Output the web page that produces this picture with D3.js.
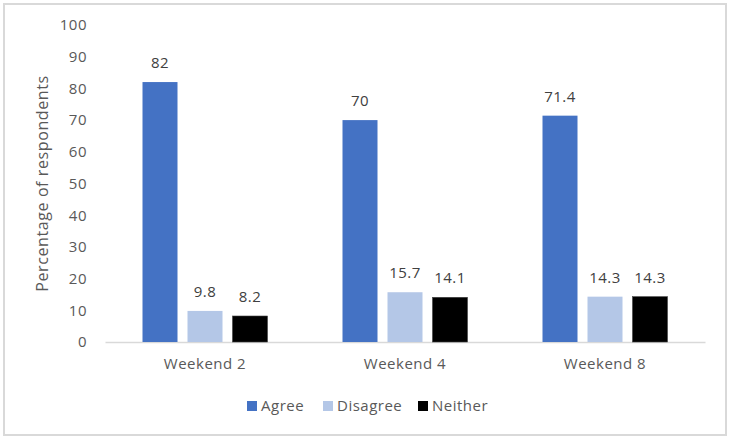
<!DOCTYPE html>
<html>
<head>
<meta charset="utf-8">
<script src="https://cdn.jsdelivr.net/npm/d3@7"></script>
<style>
  body { margin: 0; background: #fff; }
  svg text { font-family: "Open Sans", "Liberation Sans", sans-serif; fill: #595959; letter-spacing: 0.5px; }
</style>
</head>
<body>
<svg id="chart" width="731" height="440"></svg>
<script>
// DATA
var categories = ["Weekend 2", "Weekend 4", "Weekend 8"];
var seriesNames = ["Agree", "Disagree", "Neither"];
var agree = [82, 70, 71.4];
var disagree = [9.8, 15.7, 14.3];
var neither = [8.2, 14.1, 14.3];
var yTicks = [0, 10, 20, 30, 40, 50, 60, 70, 80, 90, 100];
var colors = ["#4472C4", "#B4C7E7", "#000000"];

(function () {
  var svg = d3.select("#chart");
  var margin = { top: 25, right: 26, bottom: 98, left: 105 };
  var width = 731 - margin.left - margin.right,
    height = 440 - margin.top - margin.bottom;
  var fs = "15px";

  // outer frame
  svg.append("rect")
    .attr("x", 4).attr("y", 4)
    .attr("width", 722).attr("height", 431)
    .attr("fill", "none")
    .attr("stroke", "#d9d9d9")
    .attr("stroke-width", 2);

  var rows = categories.map(function (c, i) {
    return { cat: c, values: [agree[i], disagree[i], neither[i]] };
  });

  var x0 = d3.scaleBand().domain(categories).range([0, width]).paddingInner(0).paddingOuter(0);
  var x1 = d3.scaleBand().domain(seriesNames).range([0, 125]).paddingInner(10 / 45);
  var y = d3.scaleLinear().domain([0, 100]).range([height, 0]);

  var g = svg.append("g")
    .attr("transform", "translate(" + margin.left + "," + margin.top + ")");

  // y axis (labels only)
  var yAxis = g.append("g")
    .call(d3.axisLeft(y).tickValues(yTicks).tickSize(0).tickPadding(18));
  yAxis.select(".domain").remove();
  yAxis.selectAll("text").style("font-size", fs).attr("fill", "#595959");

  // x axis
  var xAxis = g.append("g")
    .attr("transform", "translate(0," + height + ")")
    .call(d3.axisBottom(x0).tickSize(0).tickPadding(16));
  xAxis.select(".domain").attr("stroke", "#d9d9d9").attr("stroke-width", 1.5);
  xAxis.selectAll("text").style("font-size", fs).attr("fill", "#595959");

  // bars
  var groups = g.selectAll(".group")
    .data(rows)
    .enter().append("g")
    .attr("class", "group")
    .attr("transform", function (d) {
      return "translate(" + (x0(d.cat) + x0.bandwidth() / 2 - 62.5) + ",0)";
    });

  var cells = groups.selectAll(".cell")
    .data(function (d) {
      return d.values.map(function (v, i) { return { name: seriesNames[i], value: v, i: i }; });
    })
    .enter();

  cells.append("rect")
    .attr("class", "bar")
    .attr("x", function (d) { return x1(d.name); })
    .attr("y", function (d) { return y(d.value); })
    .attr("width", x1.bandwidth())
    .attr("height", function (d) { return height - y(d.value); })
    .attr("fill", function (d) { return colors[d.i]; })
    .attr("stroke", function (d) { return d.i === 2 ? "#404040" : "none"; })
    .attr("stroke-width", 0.6);

  cells.append("text")
    .attr("x", function (d) { return x1(d.name) + x1.bandwidth() / 2; })
    .attr("y", function (d) { return y(d.value) - 14; })
    .attr("text-anchor", "middle")
    .style("font-size", fs)
    .style("fill", "#404040")
    .text(function (d) { return d.value; });

  // y axis title
  svg.append("text")
    .attr("transform", "translate(48," + (margin.top + height / 2) + ") rotate(-90)")
    .attr("text-anchor", "middle")
    .style("font-size", "16px")
    .style("letter-spacing", "0.6px")
    .text("Percentage of respondents");

  // legend
  var legendX = [247, 323, 418];
  var legend = svg.append("g").attr("transform", "translate(0,406)");
  var items = legend.selectAll(".item")
    .data(seriesNames)
    .enter().append("g")
    .attr("transform", function (d, i) { return "translate(" + legendX[i] + ",0)"; });
  items.append("rect")
    .attr("x", 0).attr("y", -5)
    .attr("width", 10).attr("height", 10)
    .attr("fill", function (d, i) { return colors[i]; });
  items.append("text")
    .attr("x", 14)
    .attr("dy", "0.35em")
    .style("font-size", fs)
    .text(function (d) { return d; });
})();
</script>
</body>
</html>
